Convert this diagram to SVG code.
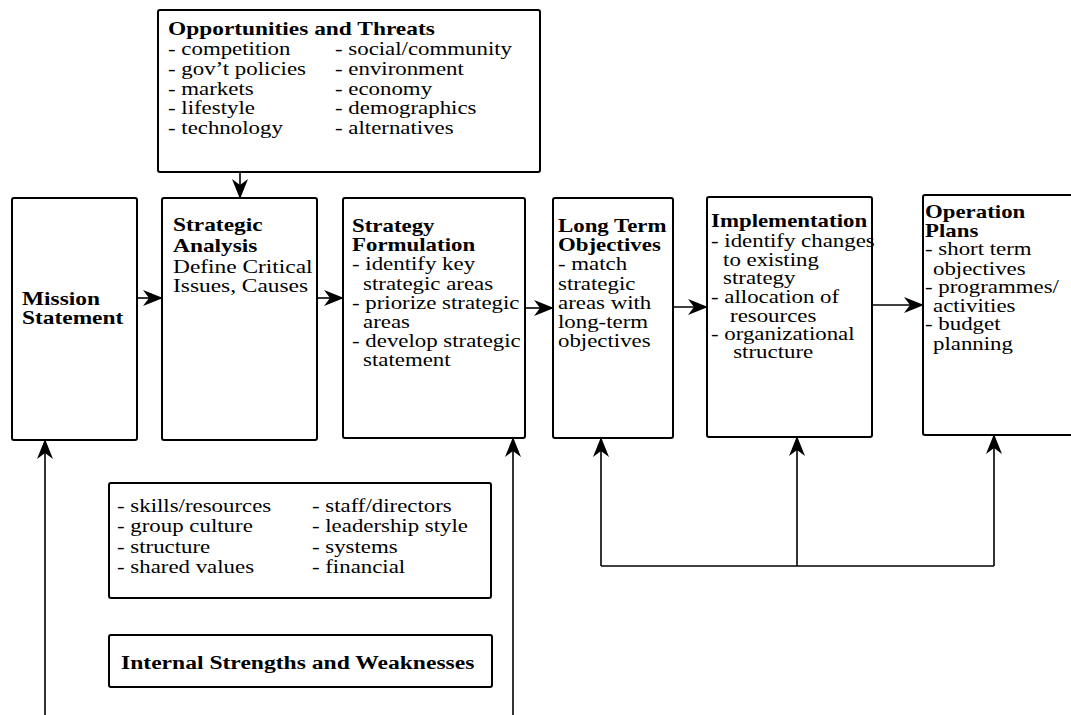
<svg xmlns="http://www.w3.org/2000/svg" width="1071" height="715" viewBox="0 0 1071 715">
<style>
text{font-family:"Liberation Serif","Times New Roman",serif;font-size:18px;fill:#000}
.b{font-weight:bold}
.box{fill:#fff;stroke:#000;stroke-width:2}
.ln{fill:none;stroke:#000;stroke-width:1.6}
</style>
<defs>
<marker id="ah" markerUnits="userSpaceOnUse" markerWidth="20" markerHeight="16" refX="19" refY="8" orient="auto" viewBox="0 0 20 16">
<path d="M20,8 L0,0 L6,8 L0,16 Z" fill="#000"/>
</marker>
</defs>
<rect width="1071" height="715" fill="#fff"/>
<g id="opportunities">
<rect class="box" x="158" y="10" width="382" height="162" rx="2"/>
<g transform="translate(168 0) scale(1.3 1)">
<text class="b" x="0" y="35">Opportunities and Threats</text>
</g>
<g transform="translate(168 0) scale(1.27 1)">
<text x="0" y="55">- competition</text>
<text x="0" y="75">- gov’t policies</text>
<text x="0" y="95">- markets</text>
<text x="0" y="114">- lifestyle</text>
<text x="0" y="134">- technology</text>
<text x="131.5" y="55">- social/community</text>
<text x="131.5" y="75">- environment</text>
<text x="131.5" y="95">- economy</text>
<text x="131.5" y="114">- demographics</text>
<text x="131.5" y="134">- alternatives</text>
</g>
</g>
<g id="mission">
<rect class="box" x="12" y="198" width="125" height="242" rx="2"/>
<g transform="translate(22 0) scale(1.3 1)">
<text class="b" x="0" y="305">Mission</text>
<text class="b" x="0" y="324">Statement</text>
</g>
</g>
<g id="analysis">
<rect class="box" x="162" y="198" width="155" height="242" rx="2"/>
<g transform="translate(173 0) scale(1.3 1)">
<text class="b" x="0" y="231">Strategic</text>
<text class="b" x="0" y="252">Analysis</text>
<text x="0" y="273">Define Critical</text>
<text x="0" y="292">Issues, Causes</text>
</g>
</g>
<g id="formulation">
<rect class="box" x="343" y="198" width="182" height="240" rx="2"/>
<g transform="translate(352 0) scale(1.27 1)">
<text class="b" x="0" y="232">Strategy</text>
<text class="b" x="0" y="251">Formulation</text>
<text x="0" y="270">- identify key</text>
<text x="8.7" y="290">strategic areas</text>
<text x="0" y="309">- priorize strategic</text>
<text x="8.7" y="328">areas</text>
<text x="0" y="347">- develop strategic</text>
<text x="8.7" y="366">statement</text>
</g>
</g>
<g id="objectives">
<rect class="box" x="553" y="198" width="120" height="240" rx="2"/>
<g transform="translate(558 0) scale(1.27 1)">
<text class="b" x="0" y="232">Long Term</text>
<text class="b" x="0" y="251">Objectives</text>
<text x="0" y="270">- match</text>
<text x="0" y="290">strategic</text>
<text x="0" y="309">areas with</text>
<text x="0" y="328">long-term</text>
<text x="0" y="347">objectives</text>
</g>
</g>
<g id="implementation">
<rect class="box" x="707" y="197" width="165" height="240" rx="2"/>
<g transform="translate(711 0) scale(1.27 1)">
<text class="b" x="0" y="227">Implementation</text>
<text x="0" y="247">- identify changes</text>
<text x="9.5" y="266">to existing</text>
<text x="9.5" y="284">strategy</text>
<text x="0" y="303">- allocation of</text>
<text x="15" y="322">resources</text>
<text x="0" y="340">- organizational</text>
<text x="17.5" y="358">structure</text>
</g>
</g>
<g id="operation">
<rect class="box" x="923" y="195" width="160" height="240" rx="2"/>
<g transform="translate(925 0) scale(1.27 1)">
<text class="b" x="0" y="218">Operation</text>
<text class="b" x="0" y="237">Plans</text>
<text x="0" y="255">- short term</text>
<text x="6.3" y="275">objectives</text>
<text x="0" y="293">- programmes/</text>
<text x="6.3" y="312">activities</text>
<text x="0" y="330">- budget</text>
<text x="6.3" y="350">planning</text>
</g>
</g>
<g id="internal-list">
<rect class="box" x="109" y="483" width="382" height="115" rx="2"/>
<g transform="translate(117 0) scale(1.27 1)">
<text x="0" y="512">- skills/resources</text>
<text x="0" y="532">- group culture</text>
<text x="0" y="553">- structure</text>
<text x="0" y="573">- shared values</text>
<text x="153.5" y="512">- staff/directors</text>
<text x="153.5" y="532">- leadership style</text>
<text x="153.5" y="553">- systems</text>
<text x="153.5" y="573">- financial</text>
</g>
</g>
<g id="internal-title">
<rect class="box" x="109" y="635" width="383" height="52" rx="2"/>
<g transform="translate(121 0) scale(1.31 1)">
<text class="b" x="0" y="669">Internal Strengths and Weaknesses</text>
</g>
</g>
<g id="connectors">
<line class="ln" x1="240" y1="172" x2="240" y2="198" marker-end="url(#ah)"/>
<line class="ln" x1="137" y1="298" x2="162" y2="298" marker-end="url(#ah)"/>
<line class="ln" x1="317" y1="298" x2="343" y2="298" marker-end="url(#ah)"/>
<line class="ln" x1="525" y1="308" x2="553" y2="308" marker-end="url(#ah)"/>
<line class="ln" x1="673" y1="307" x2="707" y2="307" marker-end="url(#ah)"/>
<line class="ln" x1="872" y1="305" x2="923" y2="305" marker-end="url(#ah)"/>
<line class="ln" x1="45" y1="715" x2="45" y2="440" marker-end="url(#ah)"/>
<line class="ln" x1="513" y1="715" x2="513" y2="438" marker-end="url(#ah)"/>
<polyline class="ln" points="601,566 994,566"/>
<line class="ln" x1="601" y1="566" x2="601" y2="438" marker-end="url(#ah)"/>
<line class="ln" x1="797" y1="566" x2="797" y2="437" marker-end="url(#ah)"/>
<line class="ln" x1="994" y1="566" x2="994" y2="435" marker-end="url(#ah)"/>
</g>
</svg>
